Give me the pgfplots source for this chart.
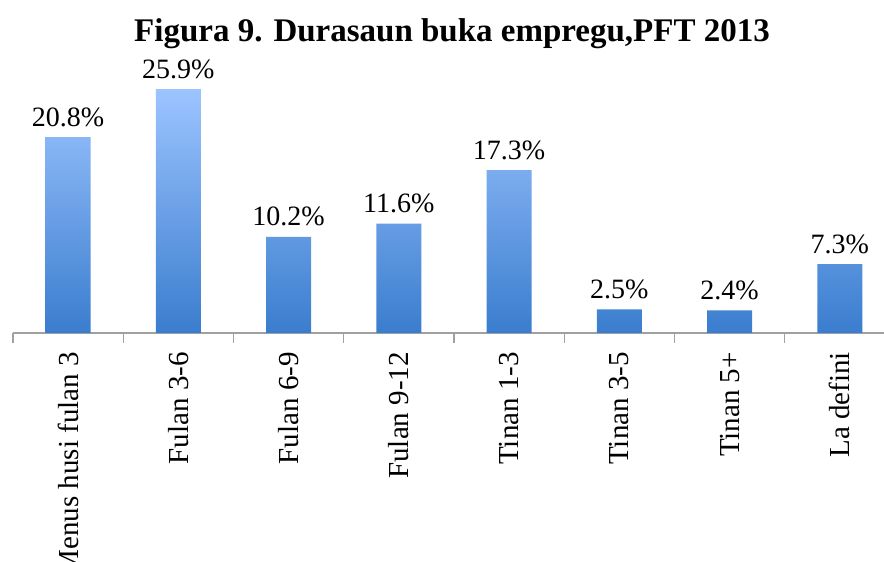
\documentclass[border=0pt]{standalone}
\usepackage{pgfplots}
\pgfplotsset{compat=1.18}
\usepackage{fontspec}
\setmainfont{Liberation Serif}
\definecolor{bartop}{RGB}{156,196,255}
\definecolor{barbot}{RGB}{58,125,206}
\definecolor{axgray}{RGB}{160,160,160}
\begin{document}
\begin{tikzpicture}
\path[use as bounding box] (0,0) rectangle (884pt,562pt);
\clip (0,0) rectangle (884pt,562pt);
\node[font=\fontsize{33}{36}\selectfont\bfseries, anchor=base, inner sep=0pt] at (452pt,520pt) {Figura 9. Durasaun buka empregu,PFT 2013};
\begin{axis}[
  at={(13pt,229pt)}, anchor=south west,
  scale only axis,
  width=871pt, height=282.6pt,
  xmin=-0.5, xmax=7.4,
  ymin=0, ymax=30,
  hide y axis,
  axis x line*=bottom,
  x axis line style={axgray, line width=1.3pt},
  ybar, bar width=45pt,
  xtick={0,1,2,3,4,5,6,7},
  xticklabels={Menus husi fulan 3,Fulan 3-6,Fulan 6-9,Fulan 9-12,Tinan 1-3,Tinan 3-5,Tinan 5+,La defini},
  major tick length=0pt,
  minor xtick={-0.5,0.5,1.5,2.5,3.5,4.5,5.5,6.5},
  minor tick length=10pt,
  tick align=outside,
  minor tick style={axgray, line width=1.3pt},
  xticklabel style={rotate=90, anchor=east, inner sep=0pt, font=\fontsize{29}{32}\selectfont},
  xticklabel shift=19pt,
  /pgf/number format/assume math mode=true,
  nodes near coords={\pgfmathprintnumber[fixed,fixed zerofill,precision=1,assume math mode=true]{\pgfplotspointmeta}\%},
  every node near coord/.append style={font=\fontsize{28}{30}\selectfont, black, inner sep=0pt, anchor=base, yshift=11pt},
  clip=false,
]
\addplot[draw=none, top color=bartop, bottom color=barbot] coordinates {
(0,20.8) (1,25.9) (2,10.2) (3,11.6) (4,17.3) (5,2.5) (6,2.4) (7,7.3)};
\end{axis}
\end{tikzpicture}
\end{document}
